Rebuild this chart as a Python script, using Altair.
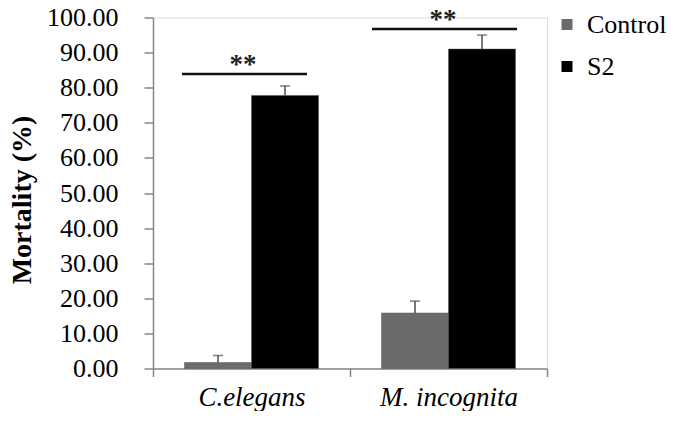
import altair as alt
import pandas as pd

# ---- data ----
species = ["C.elegans", "C.elegans", "M. incognita", "M. incognita"]
groups = ["Control", "S2", "Control", "S2"]
mortality = [1.7, 77.8, 15.8, 91.0]
errors = [2.0, 2.7, 3.4, 4.0]
y_ticks = [0, 10, 20, 30, 40, 50, 60, 70, 80, 90, 100]

sig_species = ["C.elegans", "M. incognita"]
sig_level = [83.9, 96.7]
sig_text = ["**", "**"]

df = pd.DataFrame({"species": species, "group": groups, "value": mortality, "err": errors})
df["top"] = df["value"] + df["err"]
sig_df = pd.DataFrame({"species": sig_species, "y": sig_level, "label": sig_text})

FONT = "Liberation Serif"
AX = "#868686"

x_enc = alt.X(
    "species:N",
    sort=["C.elegans", "M. incognita"],
    scale=alt.Scale(paddingInner=0, paddingOuter=0),
    axis=alt.Axis(
        title=None, labelAngle=0, labelFont=FONT, labelFontSize=27, labelFontStyle="italic",
        labelColor="black", tickBand="extent", tickSize=8, tickColor=AX, domainColor=AX,
        labelPadding=8, domainWidth=1.5, tickWidth=1.5,
    ),
)
y_scale = alt.Scale(domain=[0, 100])
y_axis = alt.Axis(
    title="Mortality (%)", values=y_ticks, format=".2f", grid=False,
    labelFont=FONT, labelFontSize=26, labelColor="black", tickSize=9, tickColor=AX,
    labelOverlap=False, labelFlush=False, labelBound=False,
    domainColor=AX, domainWidth=1.5, tickWidth=1.5, labelPadding=26,
    titleFont=FONT, titleFontSize=28, titleFontWeight="bold", titleColor="black",
    titleAngle=-90, titleX=-131, titleY=182, titleAlign="center", titleBaseline="middle",
)
y_enc = alt.Y("value:Q", scale=y_scale, axis=y_axis)
color_enc = alt.Color(
    "group:N",
    scale=alt.Scale(domain=["Control", "S2"], range=["#6b6b6b", "#000000"]),
    legend=alt.Legend(
        title=None, orient="none", legendX=401, legendY=-6, symbolType="square",
        symbolSize=121, symbolStrokeWidth=0, labelFont=FONT, labelFontSize=26,
        labelColor="black", labelOffset=7, rowPadding=16, padding=0, labelLimit=300,
    ),
)
xoff = alt.XOffset("group:N", sort=["Control", "S2"], scale=alt.Scale(paddingOuter=0.47, paddingInner=0))

base = alt.Chart(df)
bars = base.mark_bar(stroke="#555555", strokeWidth=0.5).encode(x=x_enc, xOffset=xoff, y=y_enc, color=color_enc)
err_rule = base.mark_rule(color="#4a4a4a", strokeWidth=1.5).encode(
    x=x_enc, xOffset=xoff, y=alt.Y("value:Q", scale=y_scale, axis=y_axis), y2="top:Q"
)
err_cap = base.mark_tick(color="#4a4a4a", thickness=1.5, size=10).encode(
    x=x_enc, xOffset=xoff, y=alt.Y("top:Q", scale=y_scale, axis=y_axis)
)

layers = [bars, err_rule, err_cap]
offsets = {"C.elegans": (-69.5, 55.5, -8.5), "M. incognita": (-76.5, 68.5, -5.5)}
for sp in sig_species:
    x0, x1, dx = offsets[sp]
    sub = alt.Chart(sig_df).transform_filter(alt.datum.species == sp)
    line = sub.mark_rule(color="#111111", strokeWidth=2.5, xOffset=x0, x2Offset=x1).encode(
        x=x_enc, x2="species:N", y=alt.Y("y:Q", scale=y_scale, axis=y_axis)
    )
    stars = sub.mark_text(font=FONT, fontSize=27, fontWeight="bold", color="#222222", dx=dx, dy=-1,
                          baseline="alphabetic").encode(
        x=x_enc, y=alt.Y("y:Q", scale=y_scale, axis=y_axis), text="label:N"
    )
    layers += [line, stars]

chart = alt.layer(*layers).properties(
    width=394, height=351,
    autosize=alt.AutoSizeParams(type="none"),
    padding={"left": 145, "top": 9.5, "right": 120, "bottom": 42},
).configure_view(stroke=None).configure_axis(labelOverlap=False).configure(background="white")

chart.save("out.html", embed_options={"renderer": "svg", "actions": False})
